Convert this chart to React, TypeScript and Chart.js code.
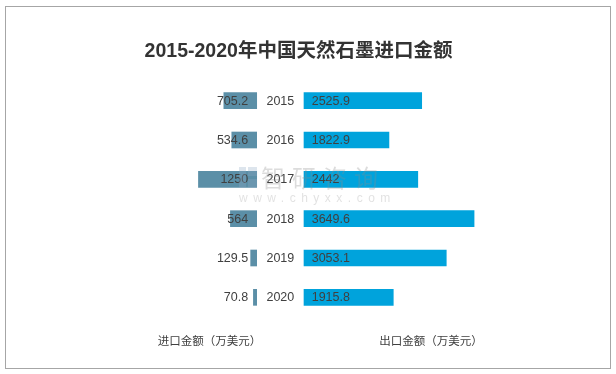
import React, { useEffect, useRef } from "react";
import { Chart, registerables } from "chart.js";

Chart.register(...registerables);

const years = ["2015", "2016", "2017", "2018", "2019", "2020"];
const importValues = [705.2, 534.6, 1250, 564, 129.5, 70.8];
const exportValues = [2525.9, 1822.9, 2442, 3649.6, 3053.1, 1915.8];
const titleText = "2015-2020年中国天然石墨进口金额";
const importLabel = "进口金额（万美元）";
const exportLabel = "出口金额（万美元）";
const watermarkName = "智研咨询";
const watermarkUrl = "www.chyxx.com";

// layout constants
const W = 616;
const H = 374;
const AREA_LEFT = 150;
const AREA_RIGHT = 530;
const IMPORT_BASE_PX = 256.7;
const EXPORT_BASE_PX = 304;
const PX_PER_UNIT = 0.0466;

const areaUnits = (AREA_RIGHT - AREA_LEFT) / PX_PER_UNIT;
const expMin = -(EXPORT_BASE_PX - AREA_LEFT) / PX_PER_UNIT;
const expMax = expMin + areaUnits;
const impMin = -(AREA_RIGHT - IMPORT_BASE_PX) / PX_PER_UNIT;
const impMax = impMin + areaUnits;

const TEXT_COLOR = "#404040";
const LABEL_FONT = '12.5px "Liberation Sans", "Noto Sans CJK SC", sans-serif';

const decorPlugin = {
  id: "decor",
  beforeDraw(chart: any) {
    const ctx = chart.ctx;
    ctx.save();
    ctx.fillStyle = "#ffffff";
    ctx.fillRect(0, 0, W, H);
    ctx.strokeStyle = "#a6a6a6";
    ctx.lineWidth = 1;
    ctx.strokeRect(5.5, 6.5, 605, 362);
    ctx.restore();
  },
  afterDatasetsDraw(chart: any) {
    const ctx = chart.ctx;
    ctx.save();
    ctx.textBaseline = "middle";
    ctx.fillStyle = TEXT_COLOR;
    ctx.font = LABEL_FONT;

    const impMeta = chart.getDatasetMeta(0);
    const expMeta = chart.getDatasetMeta(1);
    impMeta.data.forEach((el: any, i: number) => {
      ctx.textAlign = "right";
      ctx.fillText(String(importValues[i]), el.base - 8.5, el.y + 0.5);
      ctx.textAlign = "center";
      ctx.fillText(years[i], (el.base + expMeta.data[i].base) / 2, el.y + 0.5);
    });
    expMeta.data.forEach((el: any, i: number) => {
      ctx.textAlign = "left";
      ctx.fillText(String(exportValues[i]), el.base + 7.7, el.y + 0.5);
    });

    // title
    ctx.textAlign = "center";
    ctx.font = 'bold 19.5px "Liberation Sans", "Noto Sans CJK SC", sans-serif';
    ctx.fillStyle = "#333333";
    ctx.fillText(titleText, 298.5, 52);

    // bottom axis captions
    ctx.font = '11.5px "Noto Sans CJK SC", sans-serif';
    ctx.fillStyle = TEXT_COLOR;
    ctx.fillText(importLabel, 209.5, 341);
    ctx.fillText(exportLabel, 431, 341);

    // watermark
    ctx.globalAlpha = 0.3;
    ctx.fillStyle = "#8fa9c4";
    ctx.fillRect(239, 167, 7, 21);
    ctx.fillRect(248, 167, 9, 9);
    ctx.fillRect(248, 179, 9, 9);
    ctx.fillStyle = "#8a8a8a";
    ctx.textAlign = "left";
    ctx.font = '24px "Noto Sans CJK SC", sans-serif';
    (ctx as any).letterSpacing = "7px";
    ctx.fillText(watermarkName, 261, 178);
    ctx.globalAlpha = 0.25;
    ctx.font = '12px "Liberation Sans", sans-serif';
    (ctx as any).letterSpacing = "5.5px";
    ctx.fillText(watermarkUrl, 239, 198.5);
    ctx.restore();
  },
};

export default function App() {
  const canvasRef = useRef<HTMLCanvasElement | null>(null);

  useEffect(() => {
    if (!canvasRef.current) return;
    const chart = new Chart(canvasRef.current, {
      type: "bar",
      data: {
        labels: years,
        datasets: [
          {
            label: importLabel,
            data: importValues,
            xAxisID: "xImp",
            backgroundColor: "#5b8fa7",
            grouped: false,
            barThickness: 16,
            borderWidth: 0,
          } as any,
          {
            label: exportLabel,
            data: exportValues,
            xAxisID: "xExp",
            backgroundColor: "#00a3dc",
            grouped: false,
            barThickness: 16,
            borderWidth: 0,
          } as any,
        ],
      },
      options: {
        indexAxis: "y",
        responsive: false,
        animation: false,
        devicePixelRatio: 1,
        layout: {
          padding: { left: AREA_LEFT, right: W - AREA_RIGHT, top: 81, bottom: 57 },
        },
        scales: {
          y: { display: false, offset: true },
          xImp: {
            type: "linear",
            position: "bottom",
            reverse: true,
            min: impMin,
            max: impMax,
            display: false,
          },
          xExp: {
            type: "linear",
            position: "bottom",
            min: expMin,
            max: expMax,
            display: false,
          },
        },
        plugins: {
          legend: { display: false },
          tooltip: { enabled: false },
          title: { display: false },
        },
      } as any,
      plugins: [decorPlugin],
    });
    return () => chart.destroy();
  }, []);

  return (
    <div style={{ position: "fixed", left: 0, top: 0, width: W, height: H, background: "#fff" }}>
      <canvas ref={canvasRef} width={W} height={H} style={{ display: "block" }} />
    </div>
  );
}
